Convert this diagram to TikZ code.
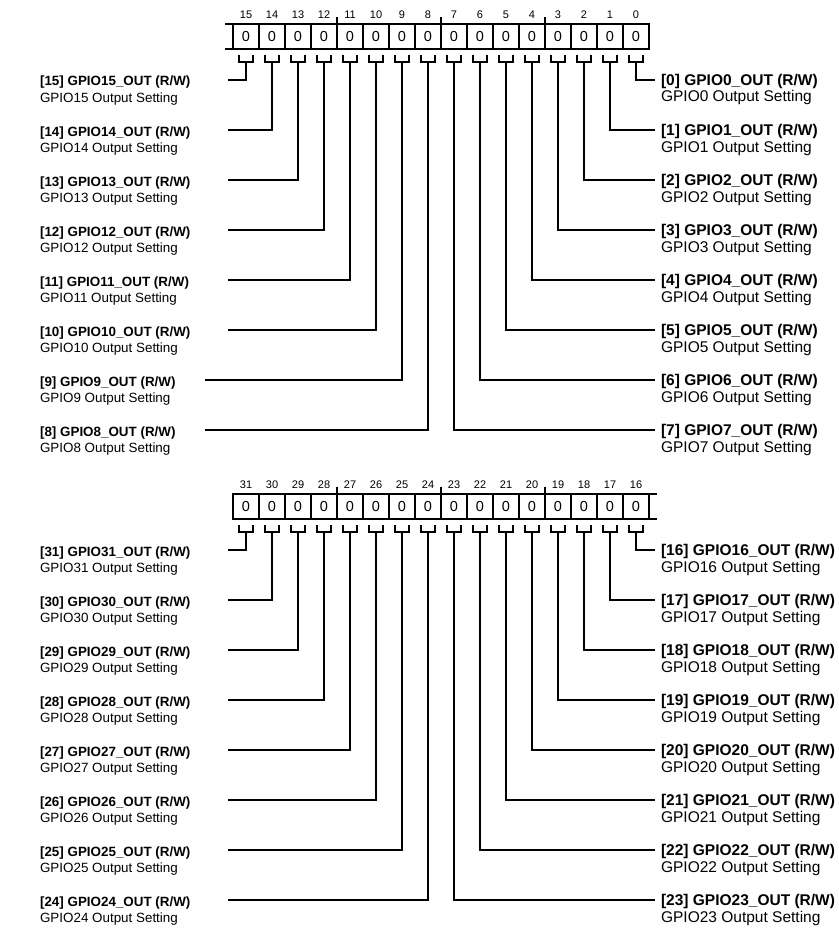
\documentclass[tikz,border=0pt]{standalone}
\usepackage{fontspec}
\setmainfont{Liberation Sans}

\begin{document}
\begin{tikzpicture}[x=1pt,y=-1pt,line width=2.1pt,
 cell/.style={draw,minimum width=26pt,minimum height=25pt,inner sep=0pt,outer sep=0pt,font=\fontsize{14.5}{14.5}\selectfont},
 bitnum/.style={inner sep=0pt,font=\fontsize{11}{11}\selectfont},
 leftlbl/.style={anchor=base west,align=left,inner sep=0pt,font=\fontsize{13.4}{16.5}\selectfont},
 rightlbl/.style={anchor=base west,align=left,inner sep=0pt,font=\fontsize{15.5}{16.5}\selectfont}]
\useasboundingbox (0,0) rectangle (838,931);
\foreach \k/\o in {0/0,1/470} {
\foreach \i in {0,...,15} {
\pgfmathtruncatemacro\bitno{16*\k+15-\i}
\node[cell] (c\bitno) at (246+26*\i,36.5+\o) {0};
\node[bitnum] (n\bitno) at (246+26*\i,15+\o) {\bitno};
\draw ([xshift=-7pt,yshift=-6pt]c\bitno.south) -- ++(0,7) -- ++(14,0) -- ++(0,-7);
}
\foreach \t in {4,8,12} {
\pgfmathtruncatemacro\tb{16*\k+\t}
\draw (c\tb.north east) -- ++(0,-7);
}
\foreach \j in {0,...,7} {
\pgfmathtruncatemacro\lbit{16*\k+15-\j}
\pgfmathtruncatemacro\rbit{16*\k+\j}
\pgfmathsetmacro\lx{(\k==0 && \j>5) ? 205 : 228}
\coordinate (e\lbit) at (\lx,80+50*\j+\o);
\node[leftlbl] (l\lbit) at (39,102.5+50*\j+\o) {\textbf{[\lbit] GPIO\lbit\_OUT (R/W)}\\GPIO\lbit{} Output Setting};
\draw ([yshift=-13pt]c\lbit.south) |- (e\lbit);
\coordinate (e\rbit) at (655,80+50*\j+\o);
\node[rightlbl] (l\rbit) at (660,102+50*\j+\o) {\textbf{[\rbit] GPIO\rbit\_OUT (R/W)}\\GPIO\rbit{} Output Setting};
\draw ([yshift=-13pt]c\rbit.south) |- (e\rbit);
}
}
\draw (c15.north west) -- ++(-8,0);
\draw (c15.south west) -- ++(-8,0);
\draw (c16.north east) -- ++(8,0);
\draw (c16.south east) -- ++(8,0);
\end{tikzpicture}
\end{document}
